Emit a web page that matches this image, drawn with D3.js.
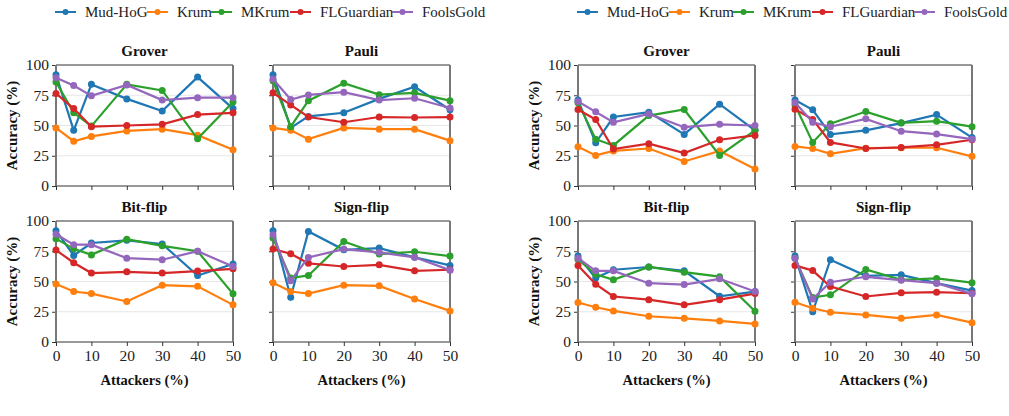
<!DOCTYPE html>
<head>
<meta charset="UTF-8">
<script src="https://d3js.org/d3.v7.min.js"></script>
<style>
	body{ margin:0; background:#fff; }
</style>
</head>
<body>
<svg id="chart" width="1009" height="416"></svg>
<script>
	// Attackers (%) on x axis
	var attackers = [0, 5, 10, 20, 30, 40, 50];
	var methods = ["Mud-HoG", "Krum", "MKrum", "FLGuardian", "FoolsGold"];
	var colors = ["#1f77b4", "#ff7f0e", "#2ca02c", "#d62728", "#9467bd"];
	var titles = ["Grover", "Pauli", "Bit-flip", "Sign-flip"];
	var yTicks = [0, 25, 50, 75, 100];

	// Left figure, one row per method (Mud-HoG, Krum, MKrum, FLGuardian, FoolsGold)
	var leftGrover = [
		[92, 46, 84, 72, 62, 90, 64],
		[48, 37, 41, 45.5, 47, 42, 30],
		[86, 60.5, 49.5, 84, 79, 39, 69.5],
		[76.5, 64, 49, 50, 51, 59, 60.5],
		[89.5, 83, 74.5, 83.5, 71, 73, 73]
	];
	var leftPauli = [
		[92, 48, 57.5, 60.5, 72, 82, 63],
		[48, 46, 38.7, 48, 47, 47, 37.5],
		[87, 49, 70.5, 85, 75.5, 77, 70.5],
		[77, 67, 57, 52.7, 57, 56.6, 57],
		[88.5, 71.5, 75.3, 77.5, 71, 72.5, 64.5]
	];
	var leftBitflip = [
		[92, 71.5, 81.8, 84, 81, 55, 64.5],
		[48, 41.7, 40, 33.5, 47, 46, 30.7],
		[85.4, 77, 72, 85, 79.5, 75, 39.8],
		[76, 65.5, 57, 58, 57, 58.6, 60.5],
		[89, 80.4, 80.4, 69.3, 68, 75, 62.4]
	];
	var leftSignflip = [
		[92, 37, 91.4, 76.2, 77.6, 70, 63.3],
		[49, 41.7, 40, 47, 46.4, 35.6, 25.7],
		[86, 52.8, 55, 83, 72.7, 74.6, 71],
		[76.8, 73, 65, 62.4, 63.8, 58.8, 59.7],
		[88.7, 50.6, 69.9, 76.8, 74, 70, 59.4]
	];

	// Right figure
	var rightGrover = [
		[71, 35.7, 57, 61, 42.6, 67.6, 46],
		[32.4, 25.3, 29, 31, 20.3, 29, 14],
		[68.7, 38.7, 33.5, 58.2, 63.2, 25.3, 46],
		[63.2, 55, 30.5, 35, 27.2, 38.2, 41.8],
		[69.8, 61.3, 52.7, 59.6, 48.6, 51, 50]
	];
	var rightPauli = [
		[71, 63, 42.6, 46, 52, 59, 40],
		[32.7, 31, 26.6, 31.3, 31.6, 31.6, 24.5],
		[67, 36, 51.4, 61.5, 52.2, 53.6, 49],
		[63.5, 55, 36, 31, 31.9, 34, 38.2],
		[69, 52.7, 49, 55.5, 45.3, 42.9, 38.7]
	];
	var rightBitflip = [
		[71, 52.8, 59.7, 62, 58.8, 37.8, 41.7],
		[32.6, 28.7, 25.7, 21.3, 19.6, 17.4, 14.9],
		[68.2, 56, 51.4, 62, 57.7, 54, 25.4],
		[63.3, 47.8, 37.6, 35, 30.7, 35, 40],
		[69.3, 58.8, 58.8, 48.6, 47.5, 52.2, 41.7]
	];
	var rightSignflip = [
		[71, 25, 68, 54.7, 55.5, 48.6, 42.5],
		[32.9, 27.9, 24.6, 22.4, 19.6, 22.4, 16],
		[69.3, 36.7, 39, 60, 51.4, 52.5, 49],
		[63.3, 59, 45.9, 37.6, 40.6, 41.2, 40.3],
		[69.3, 35.6, 49.4, 53.9, 51.1, 48.6, 39.8]
	];

	var groups = [
		[leftGrover, leftPauli, leftBitflip, leftSignflip],
		[rightGrover, rightPauli, rightBitflip, rightSignflip]
	];

	var svg = d3.select("#chart");
	var serif = "'Liberation Serif', serif";
	var groupX = [0, 522];
	var colX = [56, 273];
	var rowY = [65, 221];
	var plotW = 177, plotH = 121;
	var spineGray = "rgb(120,120,120)";

	var x = d3.scaleLinear().domain([0, 50]).range([0, plotW]);
	var y = d3.scaleLinear().domain([0, 100]).range([plotH, 0]);
	var line = d3.line().x(function(d, i) {return x(attackers[i])}).y(function(d) {return y(d)});

	groups.forEach(function(panels, g){
		var gx = groupX[g];

		// Legend
		var legend = svg.append("g").attr("transform", "translate(" + (gx + 55) + ",12)");
		var legendX = [0, 92, 156, 235, 337];
		methods.forEach(function(m, i){
			var item = legend.append("g").attr("transform", "translate(" + legendX[i] + ",0)");
			item.append("line").attr("x1", 0).attr("x2", 21).attr("y1", 0).attr("y2", 0)
				.attr("stroke", colors[i]).attr("stroke-width", 2);
			item.append("circle").attr("cx", 10.5).attr("cy", 0).attr("r", 3).attr("fill", colors[i]);
			item.append("text").attr("x", 30).attr("y", 0).attr("dy", "0.35em")
				.style("font-family", serif).style("font-size", "15px")
				.attr("fill", "#222").text(m);
		});

		panels.forEach(function(series, p){
			var row = Math.floor(p / 2), col = p % 2;
			var panel = svg.append("g")
				.attr("transform", "translate(" + (gx + colX[col]) + "," + rowY[row] + ")");

			// Gridlines
			panel.selectAll(".grid").data([25, 50, 75]).enter()
				.append("line")
				.attr("x1", 0).attr("x2", plotW)
				.attr("y1", function(d) {return y(d)}).attr("y2", function(d) {return y(d)})
				.attr("stroke", "#e6e6e6").attr("stroke-width", 1);

			// Title
			panel.append("text").attr("x", plotW / 2).attr("y", -9)
				.style("font-family", serif).style("font-size", "15px").style("font-weight", "bold")
				.attr("text-anchor", "middle").attr("fill", "#111").text(titles[p]);

			// Axes
			var yAxis = d3.axisLeft(y).tickValues(yTicks).tickSize(4).tickPadding(3);
			if(col == 1) yAxis.tickFormat("");
			var ya = panel.append("g").call(yAxis);
			var xAxis = d3.axisBottom(x).tickValues([0, 10, 20, 30, 40, 50]).tickSize(4).tickPadding(4);
			if(row == 0) xAxis.tickFormat("");
			var xa = panel.append("g").attr("transform", "translate(0," + plotH + ")").call(xAxis);
			[ya, xa].forEach(function(a){
				a.select(".domain").remove();
				a.selectAll(".tick line").attr("stroke", "#333");
				a.selectAll("text").attr("fill", "#222")
					.style("font-family", serif).style("font-size", "15.5px");
			});

			// Frame
			panel.append("line").attr("x1", 0).attr("x2", plotW).attr("y1", 0).attr("y2", 0)
				.attr("stroke", "#333").attr("stroke-width", 1);
			panel.append("line").attr("x1", 0).attr("x2", plotW).attr("y1", plotH).attr("y2", plotH)
				.attr("stroke", "#333").attr("stroke-width", 1);
			panel.append("line").attr("x1", 0).attr("x2", 0).attr("y1", 0).attr("y2", plotH)
				.attr("stroke", spineGray).attr("stroke-width", 2);
			panel.append("line").attr("x1", plotW).attr("x2", plotW).attr("y1", 0).attr("y2", plotH)
				.attr("stroke", spineGray).attr("stroke-width", 2);

			// Series
			series.forEach(function(vals, i){
				panel.append("path").datum(vals)
					.attr("d", line).attr("fill", "none")
					.attr("stroke", colors[i]).attr("stroke-width", 2.2);
				panel.selectAll(".pt" + i).data(vals).enter()
					.append("circle")
					.attr("cx", function(d, j) {return x(attackers[j])})
					.attr("cy", function(d) {return y(d)})
					.attr("r", 3.5).attr("fill", colors[i]);
			});

			// Axis titles
			if(col == 0){
				panel.append("text")
					.attr("transform", "translate(-39," + (plotH / 2) + ") rotate(-90)")
					.style("font-family", serif).style("font-size", "15px").style("font-weight", "bold")
					.attr("text-anchor", "middle").attr("fill", "#111").text("Accuracy (%)");
			}
			if(row == 1){
				panel.append("text").attr("x", plotW / 2).attr("y", plotH + 43)
					.style("font-family", serif).style("font-size", "14.5px").style("font-weight", "bold")
					.attr("text-anchor", "middle").attr("fill", "#111").text("Attackers (%)");
			}
		});
	});
</script>
</body>
